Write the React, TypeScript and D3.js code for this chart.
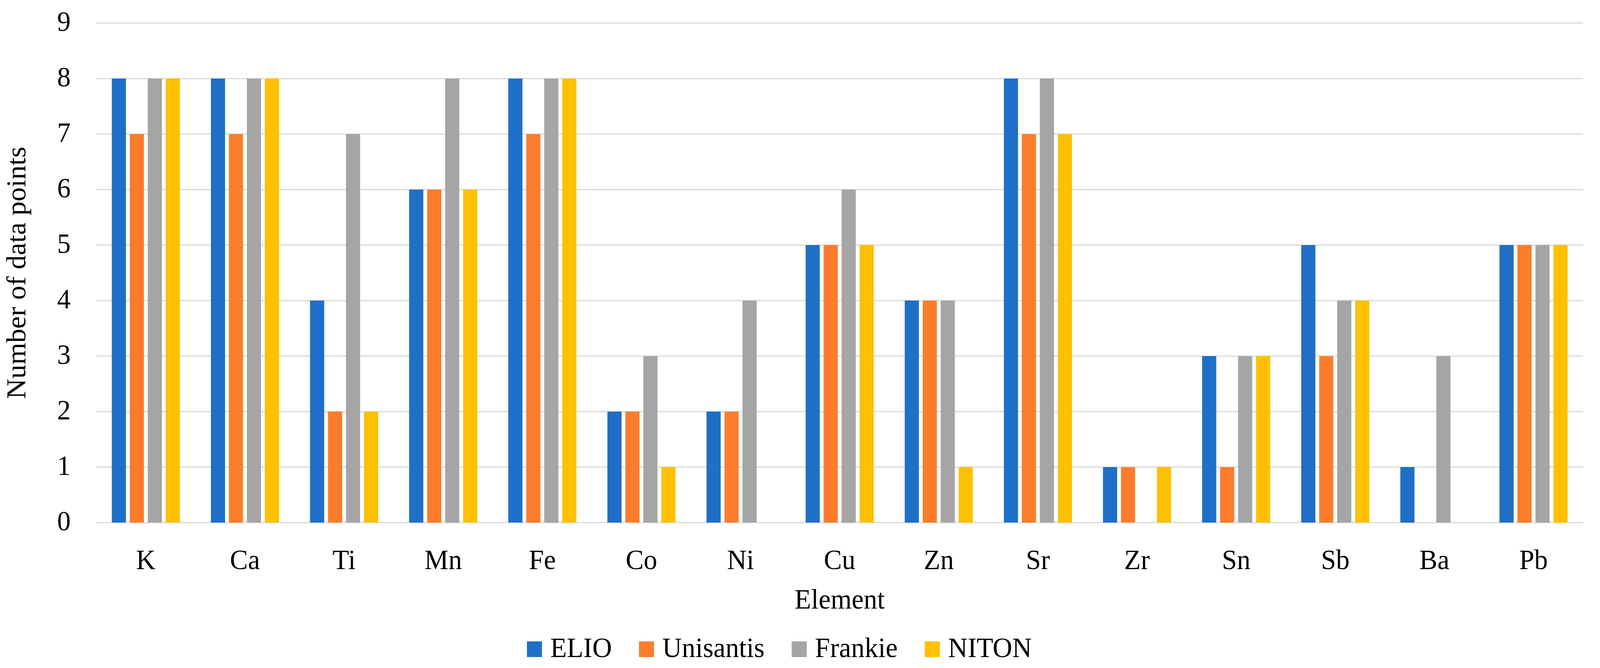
import React, { useEffect, useRef } from "react";
import * as d3 from "d3";

const categories = ["K", "Ca", "Ti", "Mn", "Fe", "Co", "Ni", "Cu", "Zn", "Sr", "Zr", "Sn", "Sb", "Ba", "Pb"];
const seriesNames = ["ELIO", "Unisantis", "Frankie", "NITON"];
const elio = [8, 8, 4, 6, 8, 2, 2, 5, 4, 8, 1, 3, 5, 1, 5];
const unisantis = [7, 7, 2, 6, 7, 2, 2, 5, 4, 7, 1, 1, 3, 0, 5];
const frankie = [8, 8, 7, 8, 8, 3, 4, 6, 4, 8, 0, 3, 4, 3, 5];
const niton = [8, 8, 2, 6, 8, 1, 0, 5, 1, 7, 1, 3, 4, 0, 5];
const yTicks = [0, 1, 2, 3, 4, 5, 6, 7, 8, 9];
const colors = ["#1f6fc6", "#fb7d2b", "#a5a5a5", "#ffc000"];

const W = 4254;
const H = 1709;
const FONT = "'Liberation Serif', 'Times New Roman', serif";

export default function App() {
  const ref = useRef<SVGSVGElement>(null);

  useEffect(() => {
    const svg = d3.select(ref.current);
    svg.selectAll("*").remove();

    svg.append("rect").attr("x", 0).attr("y", 0).attr("width", W).attr("height", H).attr("fill", "#fff");

    const left = 256, right = 4209, top = 59, bottom = 1337;
    const x = d3.scaleBand<string>().domain(categories).range([left, right]).paddingInner(0).paddingOuter(0);
    const y = d3.scaleLinear().domain([0, 9]).range([bottom, top]);
    const bw = x.bandwidth() / 7;
    const step = bw * 1.27;
    const groupW = bw * 4 + bw * 0.27 * 3;
    const sub = d3.scaleOrdinal<string, number>().domain(seriesNames).range(seriesNames.map((_, i) => i * step));

    const series = [elio, unisantis, frankie, niton];

    // gridlines
    svg.append("g").selectAll("line").data(yTicks).join("line")
      .attr("x1", left).attr("x2", right)
      .attr("y1", (d) => y(d)).attr("y2", (d) => y(d))
      .attr("stroke", "#d9d9d9").attr("stroke-width", 3);

    // y tick labels
    svg.append("g").selectAll("text").data(yTicks).join("text")
      .attr("x", 188).attr("y", (d) => y(d) + 20)
      .attr("text-anchor", "end")
      .attr("font-family", FONT).attr("font-size", 72).attr("fill", "#000")
      .text((d) => String(d));

    // bars
    series.forEach((vals, si) => {
      svg.append("g").selectAll("rect").data(categories).join("rect")
        .attr("x", (c) => (x(c) as number) + (x.bandwidth() - groupW) / 2 + sub(seriesNames[si]))
        .attr("width", bw)
        .attr("y", (c, i) => y(vals[i]))
        .attr("height", (c, i) => y(0) - y(vals[i]))
        .attr("fill", colors[si]);
    });

    // x labels
    svg.append("g").selectAll("text").data(categories).join("text")
      .attr("x", (c) => (x(c) as number) + x.bandwidth() / 2)
      .attr("y", 1456)
      .attr("text-anchor", "middle")
      .attr("font-family", FONT).attr("font-size", 72).attr("fill", "#000")
      .text((c) => c);

    // axis titles
    svg.append("text")
      .attr("x", (left + right) / 2).attr("y", 1557)
      .attr("text-anchor", "middle")
      .attr("font-family", FONT).attr("font-size", 72).attr("fill", "#000")
      .text("Element");

    svg.append("text")
      .attr("transform", `translate(68, ${(top + bottom) / 2}) rotate(-90)`)
      .attr("text-anchor", "middle")
      .attr("font-family", FONT).attr("font-size", 72).attr("fill", "#000")
      .text("Number of data points");

    // legend
    const lg = svg.append("g");
    let cx = 1401;
    seriesNames.forEach((name, i) => {
      lg.append("rect").attr("x", cx).attr("y", 1641).attr("width", 40).attr("height", 40).attr("fill", colors[i]);
      const t = lg.append("text")
        .attr("x", cx + 62).attr("y", 1681)
        .attr("font-family", FONT).attr("font-size", 72).attr("fill", "#000")
        .text(name);
      const tw = (t.node() as SVGTextElement).getComputedTextLength();
      cx = cx + 62 + tw + 72;
    });
  }, []);

  return (
    <svg ref={ref} viewBox={`0 0 ${W} ${H}`} preserveAspectRatio="none"
      style={{ position: "fixed", left: 0, top: 0, width: "100vw", height: "100vh", display: "block", background: "#fff" }} />
  );
}
